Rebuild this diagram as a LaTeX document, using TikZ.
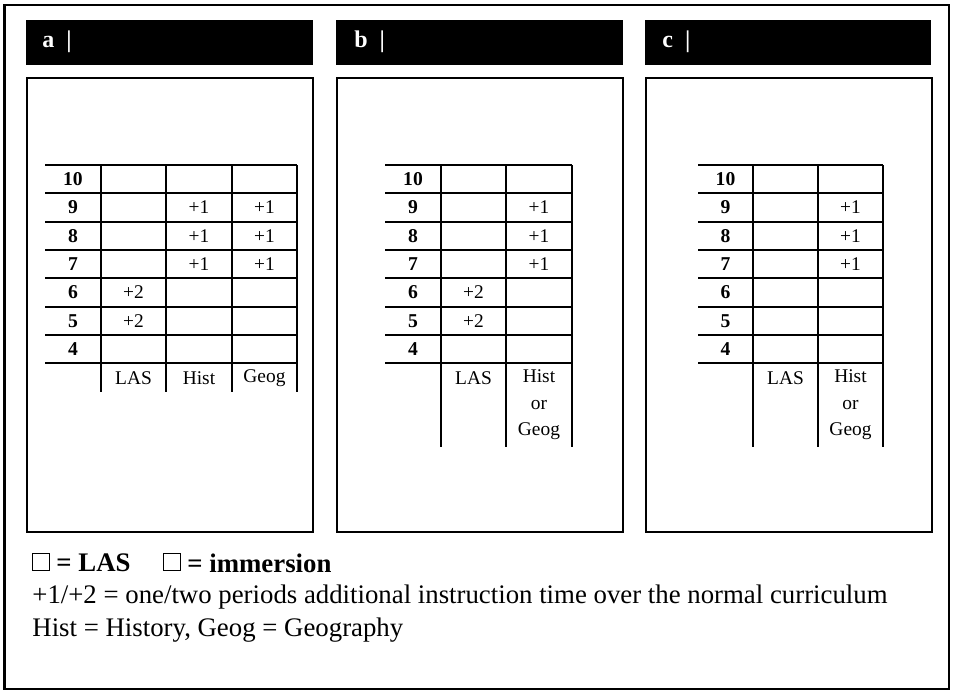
\documentclass[tikz,border=0pt]{standalone}
\usepackage{fontspec}
\setmainfont{Liberation Serif}
\tikzset{
  framebox/.style={draw=black, line width=1pt},
  headbar/.style={fill=black},
  headtext/.style={anchor=west, text=white, inner sep=0pt, font=\fontsize{12}{14}\selectfont\bfseries},
  panelbox/.style={draw=black, line width=0.6pt},
  gradeline/.style={line width=1.1pt},
  cellline/.style={line width=0.85pt},
  gradenum/.style={inner sep=0pt, font=\fontsize{9.8}{11}\selectfont\bfseries},
  celltext/.style={inner sep=0pt, font=\fontsize{9.7}{11}\selectfont},
  subjtext/.style={inner sep=0pt, align=center, font=\fontsize{9.7}{13.2}\selectfont},
  keybox/.style={draw=black, line width=0.7pt, minimum size=8.5pt, inner sep=0pt},
  keytext/.style={anchor=west, inner sep=0pt, font=\fontsize{13.4}{16}\selectfont}
}
\begin{document}
\begin{tikzpicture}[x=0.5pt,y=-0.5pt]
\useasboundingbox (0,0) rectangle (955,691);
% outer frame
\draw [framebox] (4,5) rectangle (949,689);
\draw [line width=1.6pt] (4.5,5) -- (4.5,689);
% header bars
\fill [headbar] (26,20) rectangle (313,65);
\fill [headbar] (336,20) rectangle (623,65);
\fill [headbar] (645,20) rectangle (931,65);
\node [headtext] (heada) at (42,42) {a\enspace|};
\node [headtext] (headb) at (354,42) {b\enspace|};
\node [headtext] (headc) at (662,42) {c\enspace|};
% panels
\draw [panelbox] (27,78) rectangle (313,532);
\draw [panelbox] (337,78) rectangle (623,532);
\draw [panelbox] (646,78) rectangle (932,532);

% table a
\draw [gradeline] (45,165) -- (297,165);
\draw [gradeline] (45,193) -- (101,193);
\draw [gradeline] (45,222) -- (101,222);
\draw [gradeline] (45,250) -- (101,250);
\draw [gradeline] (45,278) -- (101,278);
\draw [gradeline] (45,307) -- (101,307);
\draw [gradeline] (45,335) -- (101,335);
\draw [gradeline] (45,363) -- (297,363);
\draw [cellline] (101,193) -- (297,193);
\draw [cellline] (101,222) -- (297,222);
\draw [cellline] (101,250) -- (297,250);
\draw [cellline] (101,278) -- (297,278);
\draw [cellline] (101,307) -- (297,307);
\draw [cellline] (101,335) -- (297,335);
\draw [gradeline] (101,165) -- (101,392);
\draw [cellline] (166,165) -- (166,392);
\draw [cellline] (232,165) -- (232,392);
\draw [gradeline] (297,165) -- (297,392);
\node [gradenum] (a10) at (73,179) {10};
\node [gradenum] (a9) at (73,207.5) {9};
\node [gradenum] (a8) at (73,236) {8};
\node [gradenum] (a7) at (73,264) {7};
\node [gradenum] (a6) at (73,292.5) {6};
\node [gradenum] (a5) at (73,321) {5};
\node [gradenum] (a4) at (73,349) {4};
\node [celltext] (ahist9) at (199,207.5) {+1};
\node [celltext] (ahist8) at (199,236) {+1};
\node [celltext] (ahist7) at (199,264) {+1};
\node [celltext] (ageog9) at (264.5,207.5) {+1};
\node [celltext] (ageog8) at (264.5,236) {+1};
\node [celltext] (ageog7) at (264.5,264) {+1};
\node [celltext] (alas6) at (133.5,292.5) {+2};
\node [celltext] (alas5) at (133.5,321) {+2};
\node [subjtext] (alas) at (133.5,378) {LAS};
\node [subjtext] (ahist) at (199,378) {Hist};
\node [subjtext] (ageog) at (264.5,378) {Geog};

% table b
\draw [gradeline] (385,165) -- (572,165);
\draw [gradeline] (385,193) -- (441,193);
\draw [gradeline] (385,222) -- (441,222);
\draw [gradeline] (385,250) -- (441,250);
\draw [gradeline] (385,278) -- (441,278);
\draw [gradeline] (385,307) -- (441,307);
\draw [gradeline] (385,335) -- (441,335);
\draw [gradeline] (385,363) -- (572,363);
\draw [cellline] (441,193) -- (572,193);
\draw [cellline] (441,222) -- (572,222);
\draw [cellline] (441,250) -- (572,250);
\draw [cellline] (441,278) -- (572,278);
\draw [cellline] (441,307) -- (572,307);
\draw [cellline] (441,335) -- (572,335);
\draw [gradeline] (441,165) -- (441,447);
\draw [cellline] (506,165) -- (506,447);
\draw [gradeline] (572,165) -- (572,447);
\node [gradenum] (b10) at (413,179) {10};
\node [gradenum] (b9) at (413,207.5) {9};
\node [gradenum] (b8) at (413,236) {8};
\node [gradenum] (b7) at (413,264) {7};
\node [gradenum] (b6) at (413,292.5) {6};
\node [gradenum] (b5) at (413,321) {5};
\node [gradenum] (b4) at (413,349) {4};
\node [celltext] (bhg9) at (539,207.5) {+1};
\node [celltext] (bhg8) at (539,236) {+1};
\node [celltext] (bhg7) at (539,264) {+1};
\node [celltext] (blas6) at (473.5,292.5) {+2};
\node [celltext] (blas5) at (473.5,321) {+2};
\node [subjtext] (blas) at (473.5,378) {LAS};
\node [subjtext] (bhg) at (539,405) {Hist\\or\\Geog};

% table c
\draw [gradeline] (698,165) -- (883,165);
\draw [gradeline] (698,193) -- (753,193);
\draw [gradeline] (698,222) -- (753,222);
\draw [gradeline] (698,250) -- (753,250);
\draw [gradeline] (698,278) -- (753,278);
\draw [gradeline] (698,307) -- (753,307);
\draw [gradeline] (698,335) -- (753,335);
\draw [gradeline] (698,363) -- (883,363);
\draw [cellline] (753,193) -- (883,193);
\draw [cellline] (753,222) -- (883,222);
\draw [cellline] (753,250) -- (883,250);
\draw [cellline] (753,278) -- (883,278);
\draw [cellline] (753,307) -- (883,307);
\draw [cellline] (753,335) -- (883,335);
\draw [gradeline] (753,165) -- (753,447);
\draw [cellline] (818,165) -- (818,447);
\draw [gradeline] (883,165) -- (883,447);
\node [gradenum] (c10) at (725.5,179) {10};
\node [gradenum] (c9) at (725.5,207.5) {9};
\node [gradenum] (c8) at (725.5,236) {8};
\node [gradenum] (c7) at (725.5,264) {7};
\node [gradenum] (c6) at (725.5,292.5) {6};
\node [gradenum] (c5) at (725.5,321) {5};
\node [gradenum] (c4) at (725.5,349) {4};
\node [celltext] (chg9) at (850.5,207.5) {+1};
\node [celltext] (chg8) at (850.5,236) {+1};
\node [celltext] (chg7) at (850.5,264) {+1};
\node [subjtext] (clas) at (785.5,378) {LAS};
\node [subjtext] (chg) at (850.5,405) {Hist\\or\\Geog};

% key
\node [keybox] (keylas) at (41,562) {};
\node [keytext, font=\fontsize{13.4}{16}\selectfont\bfseries] (keylastext) at (56,563) {= LAS};
\node [keybox] (keyimm) at (172,562) {};
\node [keytext, font=\fontsize{13.4}{16}\selectfont\bfseries] (keyimmtext) at (187,563) {= immersion};
\node [keytext] (keyperiods) at (32,597) {+1/+2 = one/two periods additional instruction time over the normal curriculum};
\node [keytext] (keysubj) at (32,630) {Hist = History, Geog = Geography};
\end{tikzpicture}
\end{document}
